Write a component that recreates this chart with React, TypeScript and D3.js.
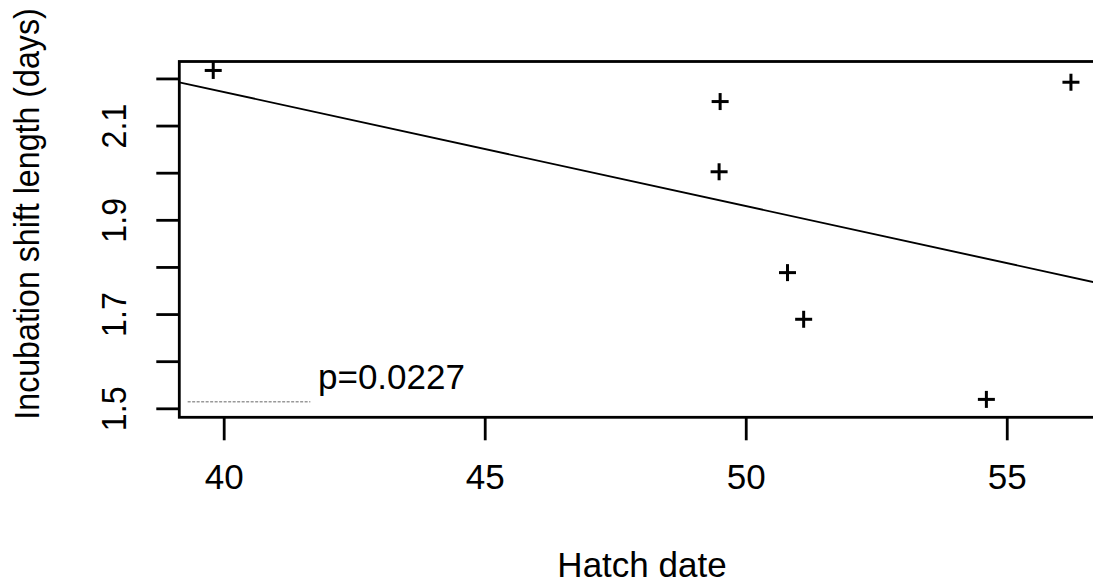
import React from "react";
import * as d3 from "d3";

const hatchDate = [39.79, 49.5, 49.48, 50.79, 51.1, 54.6, 56.22];
const shiftLength = [2.218, 2.152, 2.003, 1.789, 1.69, 1.52, 2.193];
const xTicks = [40, 45, 50, 55];
const yTicks = [1.5, 1.6, 1.7, 1.8, 1.9, 2.0, 2.1, 2.2];
const yTickLabels = ["1.5", "", "1.7", "", "1.9", "", "2.1", ""];
const fitIntercept = 3.14;
const fitSlope = -0.0242;
const pLabel = "p=0.0227";
const xTitle = "Hatch date";
const yTitle = "Incubation shift length (days)";

const W = 1093;
const H = 587;
const left = 179.3;
const right = 1105.4;
const top = 61.5;
const bottom = 417.3;

export default function App() {
  const x = d3.scaleLinear().domain([39.14, 56.88]).range([left, right]);
  const y = d3.scaleLinear().domain([1.482, 2.237]).range([bottom, top]);
  const font = "'Liberation Sans', Arial, sans-serif";
  const fs = 35;
  const line = d3
    .line<number>()
    .x((d) => x(d))
    .y((d) => y(fitIntercept + fitSlope * d));
  const plusSize = 8.5;
  return (
    <svg
      width={W}
      height={H}
      style={{ position: "absolute", left: 0, top: 0, background: "#fff" }}
      fontFamily={font}
    >
      <defs>
        <clipPath id="plotclip">
          <rect x={left} y={top} width={right - left} height={bottom - top} />
        </clipPath>
      </defs>
      <rect x={0} y={0} width={W} height={H} fill="#fff" />
      {/* frame */}
      <rect
        x={left}
        y={top}
        width={right - left}
        height={bottom - top}
        fill="none"
        stroke="#000"
        strokeWidth={2.8}
      />
      {/* y ticks */}
      {yTicks.map((t, i) => (
        <g key={"yt" + i}>
          <line x1={left - 23} x2={left} y1={y(t)} y2={y(t)} stroke="#000" strokeWidth={2.8} />
          {yTickLabels[i] && (
            <text
              transform={`translate(126,${y(t)}) rotate(-90) scale(0.92,1)`}
              textAnchor="middle"
              fontSize={fs}
              fill="#000"
            >
              {yTickLabels[i]}
            </text>
          )}
        </g>
      ))}
      {/* x ticks */}
      {xTicks.map((t) => (
        <g key={"xt" + t}>
          <line x1={x(t)} x2={x(t)} y1={bottom} y2={bottom + 23} stroke="#000" strokeWidth={2.8} />
          <text x={x(t)} y={489} textAnchor="middle" fontSize={fs} fill="#000">
            {t}
          </text>
        </g>
      ))}
      {/* fit line */}
      <g clipPath="url(#plotclip)">
        <path d={line([39.14, 56.88]) || ""} fill="none" stroke="#000" strokeWidth={1.9} />
      </g>
      {/* points */}
      {hatchDate.map((hd, i) => (
        <g key={"p" + i} stroke="#000" strokeWidth={3}>
          <line x1={x(hd) - plusSize} x2={x(hd) + plusSize} y1={y(shiftLength[i])} y2={y(shiftLength[i])} />
          <line x1={x(hd)} x2={x(hd)} y1={y(shiftLength[i]) - plusSize} y2={y(shiftLength[i]) + plusSize} />
        </g>
      ))}
      {/* gray faint line and p label */}
      <line
        x1={x(39.3)}
        x2={x(41.65)}
        y1={y(1.515)}
        y2={y(1.515)}
        stroke="#999"
        strokeWidth={1.6}
        strokeDasharray="3 1.5"
      />
      <text x={318} y={389} fontSize={fs} fill="#000">
        {pLabel}
      </text>
      {/* axis titles */}
      <text x={642} y={577} textAnchor="middle" fontSize={fs} fill="#000">
        {xTitle}
      </text>
      <text
        transform={`translate(39,214) rotate(-90) scale(0.92,1)`}
        textAnchor="middle"
        fontSize={fs}
        fill="#000"
      >
        {yTitle}
      </text>
    </svg>
  );
}
